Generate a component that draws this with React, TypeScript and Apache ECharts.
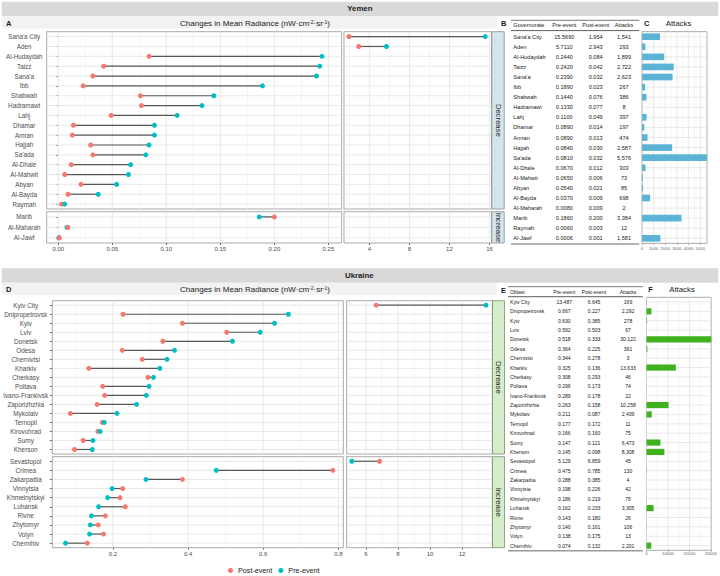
import React, { useEffect, useRef } from "react";
import * as echarts from "echarts";

// ================= DATA =================
// Yemen (table order)
const yemenGovernorates = [
  "Sana'a City", "Aden", "Al-Hudaydah", "Taizz", "Sana'a", "Ibb", "Shabwah", "Hadramawt", "Lahj", "Dhamar",
  "Amran", "Hajjah", "Sa'ada", "Al-Dhale", "Al-Mahwit", "Abyan", "Al-Bayda", "Al-Maharah", "Marib", "Raymah", "Al-Jawf",
];
const yemenPreEvent = [
  15.569, 5.711, 0.244, 0.242, 0.239, 0.189, 0.144, 0.133, 0.11, 0.089,
  0.089, 0.084, 0.081, 0.067, 0.065, 0.054, 0.037, 0.008, 0.186, 0.006, 0.0006,
];
const yemenPostEvent = [
  1.954, 2.943, 0.084, 0.042, 0.032, 0.023, 0.076, 0.077, 0.049, 0.014,
  0.013, 0.03, 0.032, 0.012, 0.006, 0.021, 0.009, 0.009, 0.2, 0.003, 0.001,
];
const yemenAttacks = [
  1541, 293, 1899, 2722, 2623, 267, 386, 8, 397, 197,
  474, 2587, 5576, 303, 73, 85, 698, 2, 3384, 12, 1581,
];

// Ukraine (table order)
const ukraineOblasts = [
  "Kyiv City", "Dnipropetrovsk", "Kyiv", "Lviv", "Donetsk", "Odesa", "Chernivtsi", "Kharkiv", "Cherkasy",
  "Poltava", "Ivano-Frankivsk", "Zaporizhzhia", "Mykolaiv", "Ternopil", "Kirovohrad", "Sumy", "Kherson",
  "Sevastopol", "Crimea", "Zakarpattia", "Vinnytsia", "Khmelnytskyi", "Luhansk", "Rivne", "Zhytomyr", "Volyn", "Chernihiv",
];
const ukrainePreEvent = [
  13.487, 0.667, 0.63, 0.592, 0.518, 0.364, 0.344, 0.325, 0.308,
  0.296, 0.289, 0.263, 0.211, 0.177, 0.166, 0.147, 0.145,
  5.129, 0.475, 0.288, 0.198, 0.186, 0.162, 0.143, 0.14, 0.138, 0.074,
];
const ukrainePostEvent = [
  6.645, 0.227, 0.385, 0.503, 0.333, 0.225, 0.278, 0.136, 0.293,
  0.173, 0.178, 0.158, 0.087, 0.172, 0.16, 0.121, 0.098,
  6.859, 0.785, 0.385, 0.226, 0.219, 0.233, 0.18, 0.161, 0.175, 0.132,
];
const ukraineAttacks = [
  169, 2292, 278, 67, 30122, 391, 3, 13633, 46,
  74, 22, 10258, 2439, 11, 75, 6473, 8308,
  45, 130, 4, 42, 75, 3305, 26, 106, 13, 2201,
];

// Tick labels
const yemenLeftTicks = [0, 0.05, 0.1, 0.15, 0.2, 0.25];
const yemenRightTicks = [4, 8, 12, 16];
const ukraineLeftTicks = [0.2, 0.4, 0.6, 0.8];
const ukraineRightTicks = [6, 8, 10, 12];
const yemenAttackTicks = [0, 1000, 2000, 3000, 4000, 5000];
const ukraineAttackTicks = [0, 10000, 20000, 30000];

const facetLabels = ["Decrease", "Increase"];
const legendLabels = ["Post-event", "Pre-event"];
const yemenTableHeader = ["Governorate", "Pre-event", "Post-event", "Attacks"];
const ukraineTableHeader = ["Oblast", "Pre-event", "Post-event", "Attacks"];

// ================= STYLE / LAYOUT =================
const FONT = "'Liberation Sans', Arial, Helvetica, sans-serif";
const POST_COLOR = "#F8766D";
const PRE_COLOR = "#00BFC4";
const GRID_MAJOR = "#e3e3e3";
const GRID_MINOR = "#f0f0f0";
const PANEL_BORDER = "#a9a9a9";
const AXIS_TEXT = "#4d4d4d";
const BREAK_AT = 1; // pre-event values above this go to the right (broken-axis) panel

function minorsOf(ticks: number[], min: number, max: number) {
  const step = ticks[1] - ticks[0];
  const out: number[] = [];
  for (let v = ticks[0] - step / 2; v < max; v += step) {
    if (v > min) out.push(+v.toFixed(6));
  }
  return out;
}

function buildOption() {
  const grid: any[] = [];
  const xAxis: any[] = [];
  const yAxis: any[] = [];
  const series: any[] = [];
  const graphic: any[] = [];

  const addGrid = (box: any, x: any, y: any, show = true) => {
    const i = grid.length;
    grid.push({
      left: box.left, top: box.top, width: box.width, height: box.height,
      show, borderColor: PANEL_BORDER, borderWidth: 1, backgroundColor: "transparent",
    });
    xAxis.push({ gridIndex: i, ...x });
    yAxis.push({ gridIndex: i, ...y });
    return i;
  };

  const gridLines = (gi: number, major: number[], minor: number[], nRows: number, x0: number) => {
    const data: number[][] = [];
    minor.forEach((v) => data.push([v, 0, 0]));
    major.forEach((v) => data.push([v, 0, 1]));
    for (let r = 0; r < nRows; r++) data.push([x0, r, 2]);
    return {
      type: "custom", xAxisIndex: gi, yAxisIndex: gi, z: 1, silent: true,
      encode: { x: 0, y: 1 }, data,
      renderItem: (params: any, api: any) => {
        const cs = params.coordSys;
        const kind = api.value(2);
        if (kind === 2) {
          const y = api.coord([api.value(0), api.value(1)])[1];
          return { type: "line", shape: { x1: cs.x, y1: y, x2: cs.x + cs.width, y2: y }, style: { stroke: GRID_MAJOR, lineWidth: 0.8 } };
        }
        const x = api.coord([api.value(0), 0])[0];
        return {
          type: "line", shape: { x1: x, y1: cs.y, x2: x, y2: cs.y + cs.height },
          style: { stroke: kind === 1 ? GRID_MAJOR : GRID_MINOR, lineWidth: kind === 1 ? 0.8 : 0.6 },
        };
      },
    };
  };

  const dotPanel = (
    box: any, range: number[], ticks: number[], fmt: (v: number) => string, cats: string[], rows: any[],
    showX: boolean, showY: boolean, yMargin: number, yFont: number, xMargin: number, preOnTop: boolean,
  ) => {
    const gi = addGrid(
      box,
      {
        type: "value", min: range[0], max: range[1],
        axisLine: { show: false }, splitLine: { show: false },
        axisTick: { show: showX, customValues: ticks, length: 2, lineStyle: { color: AXIS_TEXT, width: 0.8 } },
        axisLabel: { show: showX, customValues: ticks, formatter: fmt, fontSize: 6, color: AXIS_TEXT, margin: xMargin, fontFamily: FONT },
      },
      {
        type: "category", data: cats, inverse: true,
        axisLine: { show: false }, splitLine: { show: false },
        axisTick: { show: showY, alignWithLabel: true, length: 2.5, lineStyle: { color: AXIS_TEXT, width: 0.8 } },
        axisLabel: { show: showY, interval: 0, align: "center", margin: yMargin, fontSize: yFont, color: AXIS_TEXT, fontFamily: FONT },
      },
    );
    series.push(gridLines(gi, ticks, minorsOf(ticks, range[0], range[1]), cats.length, range[0]));
    const idx = rows.map((r) => cats.indexOf(r.name));
    series.push({
      type: "custom", xAxisIndex: gi, yAxisIndex: gi, z: 2, silent: true,
      encode: { x: [0, 1], y: 2 },
      data: rows.map((r, k) => [r.post, r.pre, idx[k]]),
      renderItem: (params: any, api: any) => {
        const a = api.coord([api.value(0), api.value(2)]);
        const b = api.coord([api.value(1), api.value(2)]);
        return { type: "line", shape: { x1: a[0], y1: a[1], x2: b[0], y2: b[1] }, style: { stroke: "#575757", lineWidth: 1.2 } };
      },
    });
    const postS = {
      type: "scatter", name: legendLabels[0], xAxisIndex: gi, yAxisIndex: gi, z: 3, silent: true,
      symbolSize: 5, itemStyle: { color: POST_COLOR, opacity: 1 },
      data: rows.map((r, k) => [r.post, idx[k]]),
    };
    const preS = {
      type: "scatter", name: legendLabels[1], xAxisIndex: gi, yAxisIndex: gi, z: 3, silent: true,
      symbolSize: 5, itemStyle: { color: PRE_COLOR, opacity: 1 },
      data: rows.map((r, k) => [r.pre, idx[k]]),
    };
    if (preOnTop) series.push(postS, preS);
    else series.push(preS, postS);
  };

  const txt = (x: number, y: number, text: string, size: number, opts: any = {}) => ({
    type: "text", x, y, silent: true, z: 10, rotation: opts.rotation || 0,
    style: {
      text, fontSize: size, fontFamily: FONT, fill: opts.fill || "#1a1a1a",
      fontWeight: opts.bold ? "bold" : "normal", align: opts.align || "left", verticalAlign: "middle",
      rich: opts.rich,
    },
  });

  const buildCountry = (c: any) => {
    // header bands
    graphic.push({ type: "rect", silent: true, z: 0, shape: { x: 1.7, y: c.headerY, width: 716.6, height: c.headerH }, style: { fill: "#d9d9d9" } });
    graphic.push({ type: "rect", silent: true, z: 0, shape: { x: 1.7, y: c.headerY + c.headerH, width: 495, height: c.bandH }, style: { fill: "#f2f2f2" } });
    graphic.push(txt(c.nameX, c.headerY + c.headerH / 2, c.title, 7.8, { bold: true }));
    graphic.push(txt(6, c.titleY, c.letters[0], 7.5, { bold: true }));
    graphic.push(txt(255, c.titleY, "Changes in Mean Radiance (nW·cm{sup|-2}·sr{sup|-1})", 8, {
      align: "center",
      rich: { sup: { fontSize: 5, fontFamily: FONT, fill: "#1a1a1a", verticalAlign: "top" } },
    }));
    graphic.push(txt(501, c.titleY + 0.5, c.letters[1], 7.5, { bold: true }));
    graphic.push(txt(c.barLetterX, c.titleY, c.letters[2], 7.5, { bold: true }));
    graphic.push(txt(c.attacksX, c.titleY, "Attacks", 7.8, { align: "center" }));

    // dot plots
    const rows = c.names.map((name: string, i: number) => ({ name, pre: c.pre[i], post: c.post[i] }));
    const facets = [rows.filter((r: any) => r.post < r.pre), rows.filter((r: any) => r.post >= r.pre)];
    facets.forEach((f: any[]) => f.sort((a, b) => b.pre - a.pre));
    facets.forEach((f: any[], fi: number) => {
      const cats = f.map((r) => r.name);
      const fb = c.facetBoxes[fi];
      const bottom = fi === facets.length - 1;
      dotPanel(
        { left: c.leftX[0], width: c.leftX[1] - c.leftX[0], top: fb.top, height: fb.height },
        c.leftRange, c.leftTicks, c.leftFmt, cats, f.filter((r) => r.pre <= BREAK_AT),
        bottom, true, c.yMargin, c.yFont, c.xMargin, fi === 0,
      );
      dotPanel(
        { left: c.rightX[0], width: c.rightX[1] - c.rightX[0], top: fb.top, height: fb.height },
        c.rightRange, c.rightTicks, (v: number) => String(v), cats, f.filter((r) => r.pre > BREAK_AT),
        bottom, false, c.yMargin, c.yFont, c.xMargin, fi === 0,
      );
      // strip
      graphic.push({
        type: "rect", silent: true, z: 5,
        shape: { x: c.stripX, y: fb.top, width: c.stripW, height: fb.height },
        style: { fill: c.stripFill, stroke: c.stripStroke, lineWidth: 0.8 },
      });
      graphic.push(txt(c.stripX + c.stripW / 2, fb.top + fb.height / 2, facetLabels[fi], 7.6, { align: "center", rotation: -Math.PI / 2 }));
    });

    // table
    const tb = c.tableBox;
    const tg = addGrid(tb, { type: "value", min: 0, max: 1, show: false }, { type: "category", data: c.names, inverse: true, show: false }, false);
    series.push({
      type: "custom", xAxisIndex: tg, yAxisIndex: tg, z: 3, silent: true,
      encode: { x: 0, y: 1 },
      data: c.names.map((_: string, i: number) => [0, i]),
      renderItem: (params: any, api: any) => {
        const i = params.dataIndex;
        const cs = params.coordSys;
        const y = api.coord([0, api.value(1)])[1];
        const cells = [c.names[i], c.pre[i].toFixed(c.preDigits), c.post[i].toFixed(3), c.attacks[i].toLocaleString("en-US")];
        return {
          type: "group",
          children: cells.map((t: string, k: number) => ({
            type: "text", x: cs.x + c.colFrac[k] * cs.width, y,
            style: { text: t, fontSize: c.tableFont, fontFamily: FONT, fill: "#1a1a1a", align: k === 0 ? "left" : "center", verticalAlign: "middle" },
          })),
        };
      },
    });
    c.header.forEach((h: string, k: number) => {
      graphic.push(txt(tb.left + c.colFrac[k] * tb.width, c.tableHeaderY, h, c.tableFont, { align: k === 0 ? "left" : "center" }));
    });
    const line = (y: number, color: string, w: number) => ({
      type: "line", silent: true, z: 5,
      shape: { x1: tb.left, y1: y, x2: tb.left + tb.width, y2: y },
      style: { stroke: color, lineWidth: w },
    });
    graphic.push(line(c.tableLines[0], "#555", 0.8), line(c.tableLines[1], "#333", 0.8), line(c.tableLines[2], "#999", 1.4));

    // attacks bars
    const maxA = Math.max(...c.attacks);
    const bg = addGrid(
      c.barBox,
      {
        type: "value", min: 0, max: maxA, axisLine: { show: false }, splitLine: { show: false },
        axisTick: { show: true, customValues: c.attackTicks, length: 1.5, lineStyle: { color: "#777", width: 0.6 } },
        axisLabel: { customValues: c.attackTicks, formatter: (v: number) => String(v), fontSize: 4.3, color: "#666", margin: c.barLabelMargin, fontFamily: FONT },
      },
      {
        type: "category", data: c.names, inverse: true, axisLine: { show: false }, axisTick: { show: false },
        axisLabel: { show: false }, splitLine: { show: false },
      },
    );
    series.push(gridLines(bg, c.attackTicks, minorsOf(c.attackTicks, 0, maxA), c.names.length, 0));
    series.push({
      type: "bar", xAxisIndex: bg, yAxisIndex: bg, z: 2, silent: true,
      data: c.attacks, barWidth: "66%", itemStyle: { color: c.barColor },
    });
  };

  buildCountry({
    title: "Yemen", letters: ["A", "B", "C"],
    headerY: 1.7, headerH: 14.3, bandH: 12.5, nameX: 347.3, titleY: 23,
    barLetterX: 644, attacksX: 678.5,
    names: yemenGovernorates, pre: yemenPreEvent, post: yemenPostEvent, attacks: yemenAttacks,
    facetBoxes: [{ top: 31.7, height: 177.3 }, { top: 211.7, height: 31.3 }],
    leftX: [46.7, 341.7], rightX: [344, 491.5],
    leftRange: [-0.0107, 0.2623], rightRange: [1.47, 16.2],
    leftTicks: yemenLeftTicks, rightTicks: yemenRightTicks,
    leftFmt: (v: number) => v.toFixed(2),
    yMargin: 22.5, yFont: 6.3, xMargin: 2.5,
    stripX: 491.8, stripW: 12.4, stripFill: "#d4e5ee", stripStroke: "#8c8c8c",
    tableBox: { left: 511, top: 31.66, width: 128.3, height: 211.7 },
    colFrac: [0.018, 0.4154, 0.66, 0.881], preDigits: 4, tableFont: 5.6,
    header: yemenTableHeader, tableHeaderY: 25.3, tableLines: [20.3, 30.6, 244],
    barBox: { left: 642, top: 31.66, width: 65, height: 211.7 },
    attackTicks: yemenAttackTicks, barLabelMargin: 3, barColor: "#5bb4d6",
  });

  buildCountry({
    title: "Ukraine", letters: ["D", "E", "F"],
    headerY: 268.3, headerH: 14.4, bandH: 12.3, nameX: 345, titleY: 289.5,
    barLetterX: 648.3, attacksX: 682,
    names: ukraineOblasts, pre: ukrainePreEvent, post: ukrainePostEvent, attacks: ukraineAttacks,
    facetBoxes: [{ top: 300.7, height: 153.3 }, { top: 456.7, height: 91 }],
    leftX: [52.3, 343.3], rightX: [346.7, 492.3],
    leftRange: [0.0388, 0.813], rightRange: [4.81, 13.88],
    leftTicks: ukraineLeftTicks, rightTicks: ukraineRightTicks,
    leftFmt: (v: number) => v.toFixed(1),
    yMargin: 26.6, yFont: 6.4, xMargin: 3,
    stripX: 492.5, stripW: 12, stripFill: "#d5edc8", stripStroke: "#7f8c7a",
    tableBox: { left: 508, top: 297.3, width: 134.7, height: 253 },
    colFrac: [0.015, 0.418, 0.6385, 0.891], preDigits: 3, tableFont: 5.1,
    header: ukraineTableHeader, tableHeaderY: 292, tableLines: [286.7, 296.7, 550.7],
    barBox: { left: 646.5, top: 297.3, width: 65.2, height: 253 },
    attackTicks: ukraineAttackTicks, barLabelMargin: 1.5, barColor: "#3fb11f",
  });

  return {
    animation: false,
    backgroundColor: "#ffffff",
    textStyle: { fontFamily: FONT },
    grid, xAxis, yAxis, series, graphic,
    legend: {
      data: legendLabels.map((n) => ({ name: n, icon: "circle" })),
      left: 228, top: 567, itemWidth: 5, itemHeight: 5, itemGap: 6, padding: 0,
      selectedMode: false,
      textStyle: { fontSize: 7.2, color: "#1a1a1a", fontFamily: FONT },
    },
  };
}

export default function App() {
  const ref = useRef<HTMLDivElement>(null);
  useEffect(() => {
    if (!ref.current) return;
    const chart = echarts.init(ref.current, null, { renderer: "svg", width: 720, height: 576 });
    chart.setOption(buildOption() as any);
    return () => chart.dispose();
  }, []);
  return (
    <div
      ref={ref}
      style={{ position: "fixed", left: 0, top: 0, width: 720, height: 576, background: "#fff" }}
    />
  );
}
